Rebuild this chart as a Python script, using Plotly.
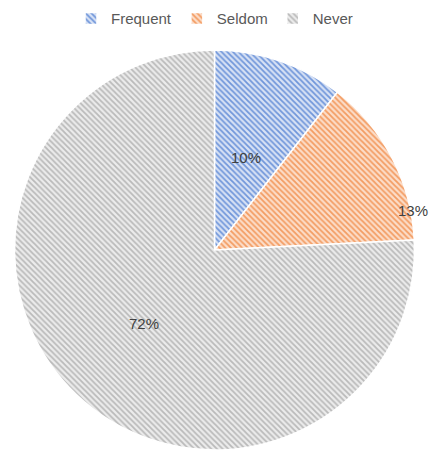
import math
import plotly.graph_objects as go

# Survey answer shares
categories = ["Frequent", "Seldom", "Never"]
values = [10, 13, 72]

line_colors = ["#7096da", "#f39c62", "#bababa"]
tint_colors = ["#d8e2f5", "#fcddc9", "#ececec"]

W, H = 437, 452
margin = dict(l=14, r=22, t=50, b=2)
FONT = "Liberation Sans, Arial, sans-serif"

fig = go.Figure(
    go.Pie(
        labels=categories,
        values=values,
        sort=False,
        direction="clockwise",
        rotation=0,
        textinfo="none",
        hoverinfo="label+value",
        marker=dict(
            colors=tint_colors,
            line=dict(color="white", width=1.5),
            pattern=dict(
                shape=["\\", "\\", "\\"],
                fgcolor=line_colors,
                bgcolor=tint_colors,
                size=4,
                solidity=0.45,
                fillmode="replace",
            ),
        ),
    )
)

# Value labels placed along each slice (angle fraction within slice, radius fraction)
label_place = [(0.5, 0.49), (0.83, 1.01), (0.5, 0.51)]
pw = W - margin["l"] - margin["r"]
ph = H - margin["t"] - margin["b"]
radius = min(pw, ph) / 2
total = sum(values)
start = 0.0
for val, (af, rf) in zip(values, label_place):
    span = val / total * 2 * math.pi
    ang = start + span * af
    start += span
    dx = radius * rf * math.sin(ang)
    dy = radius * rf * math.cos(ang)
    fig.add_annotation(
        x=0.5 + dx / pw,
        y=0.5 + dy / ph,
        xref="paper",
        yref="paper",
        xanchor="center",
        yanchor="middle",
        text=f"{val}%",
        showarrow=False,
        font=dict(family=FONT, size=15, color="#404040"),
    )

fig.update_layout(
    width=W,
    height=H,
    margin=margin,
    paper_bgcolor="white",
    plot_bgcolor="white",
    showlegend=True,
    legend=dict(
        orientation="h",
        x=0.5,
        xanchor="center",
        y=0.995,
        yref="container",
        yanchor="top",
        font=dict(family=FONT, size=15, color="#595959"),
        itemwidth=30,
        traceorder="normal",
    ),
)

fig.write_html("out.html")
